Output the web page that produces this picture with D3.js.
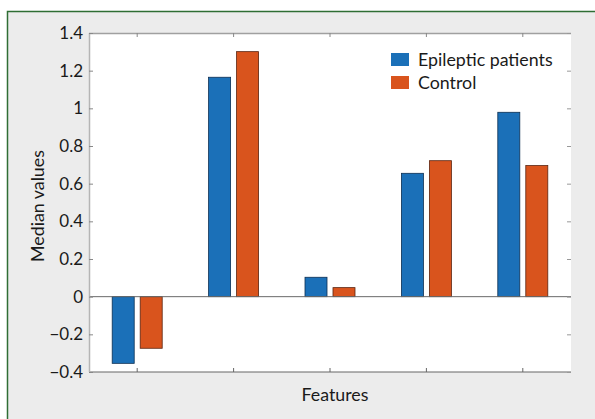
<!DOCTYPE html>
<html>
<head>
<meta charset="utf-8">
<script src="https://cdn.jsdelivr.net/npm/d3@7"></script>
<style>
  body { margin: 0; background: #fff; }
  svg { display: block; font-family: Lato, "Open Sans", sans-serif; }
</style>
</head>
<body>
<svg id="chart"></svg>
<script>
// data
const features = ['F1', 'F2', 'F3', 'F4', 'F5'];
const seriesNames = ['Epileptic patients', 'Control'];
const epileptic = [-0.354, 1.165, 0.103, 0.655, 0.979];
const control = [-0.274, 1.301, 0.048, 0.722, 0.696];
const yTicks = [-0.4, -0.2, 0, 0.2, 0.4, 0.6, 0.8, 1, 1.2, 1.4];
const colors = ['#1b70b8', '#d9541d'];

const width = 595, height = 419;
const margin = {top: 33, right: 24, bottom: 47, left: 89};
const fontSize = 17;
const titleSize = 17.8;

const svg = d3.select('#chart')
    .attr('width', width)
    .attr('height', height);

// figure background + green frame
svg.append('rect')
    .attr('x', 7).attr('y', 11)
    .attr('width', width - 7).attr('height', height - 11)
    .attr('fill', '#ececec');
svg.append('path')
    .attr('d', `M7.5,${height} V11.5 H${width}`)
    .attr('fill', 'none')
    .attr('stroke', '#2f6e34')
    .attr('stroke-width', 1.5);

const x = d3.scaleBand()
    .domain(features)
    .range([margin.left, width - margin.right]);

const y = d3.scaleLinear()
    .domain([-0.4, 1.4])
    .range([height - margin.bottom, margin.top]);

// the two bars of a group, centred on the band
const x1 = d3.scaleBand()
    .domain(seriesNames)
    .range([x.bandwidth() / 2 - 25, x.bandwidth() / 2 + 25])
    .paddingInner(0.214);

const pLeft = margin.left, pRight = width - margin.right;
const pTop = margin.top, pBottom = height - margin.bottom;

// plot area
svg.append('rect')
    .attr('x', pLeft).attr('y', pTop)
    .attr('width', pRight - pLeft)
    .attr('height', pBottom - pTop)
    .attr('fill', '#fff');

// bars
const rows = features.map((f, i) => ({f, vals: [epileptic[i], control[i]]}));
const groups = svg.append('g')
    .selectAll('g')
    .data(rows)
    .join('g')
    .attr('transform', d => `translate(${x(d.f)},0)`);

groups.selectAll('rect')
    .data(d => d.vals.map((v, j) => ({v, s: seriesNames[j], j})))
    .join('rect')
    .attr('x', d => x1(d.s))
    .attr('width', x1.bandwidth())
    .attr('y', d => y(Math.max(0, d.v)))
    .attr('height', d => Math.abs(y(d.v) - y(0)))
    .attr('fill', d => colors[d.j])
    .attr('stroke', d => d.j === 0 ? '#0d2f52' : '#5a2410')
    .attr('stroke-width', 0.8);

// zero line
svg.append('line')
    .attr('x1', pLeft).attr('x2', pRight)
    .attr('y1', y(0)).attr('y2', y(0))
    .attr('stroke', '#6a6a6a');

// box lines
svg.append('line').attr('x1', pLeft).attr('x2', pRight).attr('y1', pTop + 0.5).attr('y2', pTop + 0.5)
    .attr('stroke', '#a0a0a0').attr('stroke-width', 1.5);
svg.append('line').attr('x1', pLeft).attr('x2', pRight).attr('y1', pBottom).attr('y2', pBottom)
    .attr('stroke', '#666').attr('stroke-width', 1.2);
svg.append('line').attr('x1', pLeft + 0.5).attr('x2', pLeft + 0.5).attr('y1', pTop).attr('y2', pBottom)
    .attr('stroke', '#b5b5b5').attr('stroke-width', 1.5);

// y axis (left) labels + inward ticks
const yAxis = d3.axisLeft(y)
    .tickValues(yTicks)
    .tickSize(-4)
    .tickPadding(6)
    .tickFormat(d => d3.format('')(Math.round(d * 10) / 10).replace('-', '\u2212'));

svg.append('g')
    .attr('transform', `translate(${pLeft},0)`)
    .call(yAxis)
    .call(g => g.select('.domain').remove())
    .call(g => g.selectAll('line').attr('stroke', '#888'))
    .call(g => g.selectAll('text')
        .attr('fill', '#1a1a1a')
        .attr('font-size', fontSize)
        .attr('font-family', 'Lato, sans-serif'));

// right ticks
svg.append('g')
    .attr('transform', `translate(${pRight},0)`)
    .call(d3.axisRight(y).tickValues(yTicks).tickSize(-4).tickFormat(''))
    .call(g => g.select('.domain').remove())
    .call(g => g.selectAll('line').attr('stroke', '#999'));

// x ticks, top and bottom, pointing inward
svg.append('g')
    .attr('transform', `translate(0,${pBottom})`)
    .call(d3.axisBottom(x).tickSize(-4).tickFormat(''))
    .call(g => g.select('.domain').remove())
    .call(g => g.selectAll('line').attr('stroke', '#666'));
svg.append('g')
    .attr('transform', `translate(0,${pTop})`)
    .call(d3.axisTop(x).tickSize(-4).tickFormat(''))
    .call(g => g.select('.domain').remove())
    .call(g => g.selectAll('line').attr('stroke', '#888'));

// axis titles
svg.append('text')
    .attr('x', 335)
    .attr('y', 401)
    .attr('text-anchor', 'middle')
    .attr('font-size', titleSize)
    .attr('fill', '#1a1a1a')
    .text('Features');

svg.append('text')
    .attr('transform', `translate(44,206) rotate(-90)`)
    .attr('text-anchor', 'middle')
    .attr('font-size', titleSize)
    .attr('fill', '#1a1a1a')
    .text('Median values');

// legend
const legend = svg.append('g')
    .selectAll('g')
    .data(seriesNames)
    .join('g')
    .attr('transform', (d, i) => `translate(391,${53 + i * 23})`);
legend.append('rect')
    .attr('width', 18).attr('height', 13)
    .attr('fill', (d, i) => colors[i]);
legend.append('text')
    .attr('x', 27).attr('y', 13)
    .attr('font-size', titleSize)
    .attr('fill', '#1a1a1a')
    .text(d => d);
</script>
</body>
</html>
